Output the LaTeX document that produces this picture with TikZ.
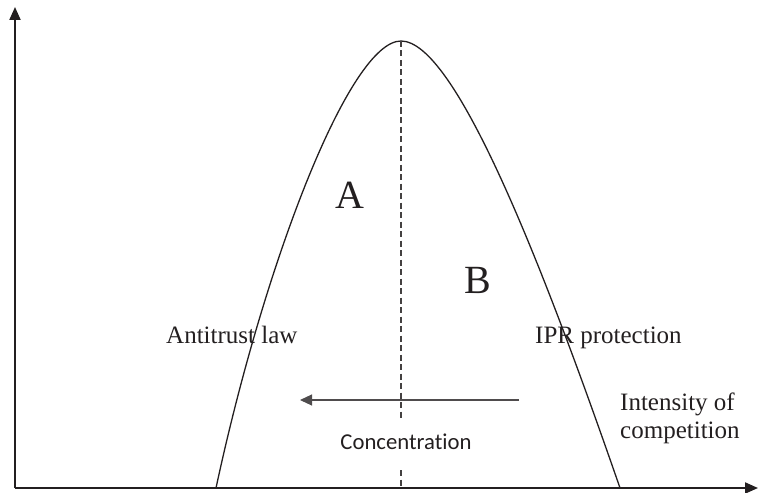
\documentclass[tikz,border=0pt]{standalone}
\usepackage{fontspec}
\setmainfont{Liberation Serif}
\newfontfamily\calib[Ligatures=NoCommon]{Carlito}
\usetikzlibrary{arrows.meta}
\definecolor{ink}{HTML}{231F20}
\tikzset{
  axisline/.style={line width=2pt, draw=ink, -{Triangle[length=13pt,width=11pt]}},
  curveline/.style={line width=1.3pt, draw=ink},
  midline/.style={line width=1.2pt, draw=ink!85, dash pattern=on 6pt off 3.5pt},
  concarrow/.style={line width=1.1pt, draw=ink!80, -{Triangle[length=12pt,width=11pt]}},
  lbl/.style={inner sep=0pt, text=ink, font=\fontsize{25}{28}\selectfont},
  biglbl/.style={inner sep=0pt, text=ink, font=\fontsize{40}{44}\selectfont},
  sanslbl/.style={inner sep=0pt, text=ink, font=\calib\fontsize{22.7}{26}\selectfont}
}
\begin{document}
\begin{tikzpicture}[x=1pt,y=-1pt]
\useasboundingbox (0,0) rectangle (759,492);
% axes
\coordinate (O) at (15,488);
\coordinate (ytop) at (15,7);
\coordinate (xend) at (758,488);
\draw[axisline] (O) -- (ytop);
\draw[axisline] (O) -- (xend);
% curve
\coordinate (peak) at (401,41);
\coordinate (lbase) at (216,488);
\coordinate (rbase) at (620,488);
\draw[curveline] (lbase) .. controls (265,260) and (350,41) .. (peak)
                 .. controls (455,41) and (541,260) .. (rbase);
% dashed middle line (interrupted by the label)
\coordinate (dmid1) at (401,419);
\coordinate (dmid2) at (401,470);
\coordinate (dbase) at (401,486);
\draw[midline] (peak) -- (dmid1);
\draw[midline] (dmid2) -- (dbase);
% concentration arrow
\coordinate (cs) at (519,400);
\coordinate (ce) at (300,400);
\draw[concarrow] (cs) -- (ce);
% labels
\node[biglbl, anchor=base] (A) at (350,208) {A};
\node[biglbl, anchor=base] (B) at (478,293) {B};
\node[lbl, anchor=base west] (anti) at (166,343) {Antitrust law};
\node[lbl, anchor=base west] (ipr) at (535,343) {IPR protection};
\node[lbl, anchor=base west] (int) at (620,410) {Intensity of};
\node[lbl, anchor=base west] (comp) at (620,438) {competition};
\node[sanslbl, anchor=base] (conc) at (406,449) {Concentration};
\end{tikzpicture}
\end{document}
